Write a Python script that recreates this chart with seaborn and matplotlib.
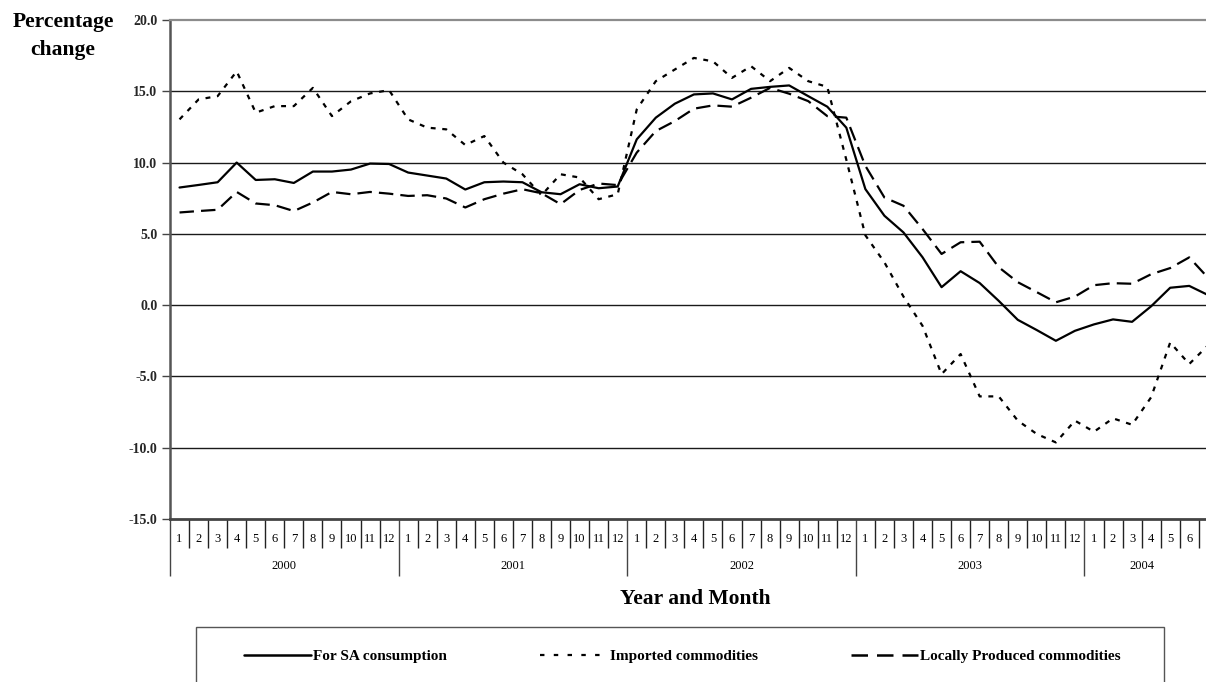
# plot.py
# Percentage change in price indices: SA consumption, imported and locally produced commodities.

import numpy as np
import pandas as pd
import matplotlib.pyplot as plt
import seaborn as sns
from matplotlib.patches import Rectangle
from matplotlib.lines import Line2D

# --- data (monthly, Jan 2000 - Jun 2004; last value runs off the right edge) ---
years = [2000, 2001, 2002, 2003, 2004]
months_per_year = [12, 12, 12, 12, 6]
y_ticks = [-15, -10, -5, 0, 5, 10, 15, 20]

sa_consumption = [8.25, 8.43, 8.62, 10.0, 8.78, 8.83, 8.57, 9.37, 9.37, 9.51, 9.93, 9.9,
                  9.3, 9.09, 8.88, 8.11, 8.62, 8.67, 8.62, 7.92, 7.78, 8.48, 8.2, 8.32,
                  11.63, 13.15, 14.13, 14.78, 14.85, 14.43, 15.17, 15.31, 15.41, 14.66, 13.92, 12.45,
                  8.14, 6.27, 5.1, 3.36, 1.26, 2.38, 1.55, 0.3, -1.03, -1.75, -2.5, -1.8,
                  -1.35, -1.0, -1.17, -0.08, 1.22, 1.35, 0.7]
imported = [13.03, 14.43, 14.66, 16.4, 13.5, 13.96, 13.96, 15.24, 13.26, 14.3, 14.85, 15.08,
            13.03, 12.45, 12.33, 11.23, 11.86, 10.0, 9.18, 7.71, 9.18, 8.95, 7.43, 7.78,
            13.73, 15.71, 16.53, 17.34, 17.1, 15.94, 16.76, 15.71, 16.64, 15.71, 15.31, 10.2,
            4.9, 3.0, 0.6, -1.45, -4.84, -3.43, -6.4, -6.4, -8.1, -9.04, -9.63, -8.1,
            -8.88, -7.94, -8.39, -6.46, -2.62, -4.13, -2.8]
locally = [6.5, 6.6, 6.69, 7.94, 7.13, 7.01, 6.6, 7.2, 7.94, 7.78, 7.94, 7.82,
           7.66, 7.71, 7.48, 6.85, 7.43, 7.82, 8.13, 7.85, 7.08, 8.08, 8.53, 8.42,
           10.7, 12.21, 12.91, 13.78, 14.01, 13.92, 14.55, 15.24, 14.83, 14.31, 13.26, 13.15,
           9.77, 7.55, 6.97, 5.34, 3.59, 4.41, 4.45, 2.66, 1.61, 0.91, 0.2, 0.6,
           1.4, 1.54, 1.5, 2.17, 2.6, 3.35, 1.9]

labels = ["For SA consumption", "Imported commodities", "Locally Produced commodities"]

df = pd.DataFrame({
    "idx": np.arange(len(sa_consumption)),
    labels[0]: sa_consumption,
    labels[1]: imported,
    labels[2]: locally,
})

# --- style ---
sns.set_theme(style="ticks")
plt.rcParams.update({
    'font.family': ['Liberation Serif', 'DejaVu Serif'],
    'axes.unicode_minus': False,
    'text.color': '#000000',
})

W, H = 1206, 682
fig = plt.figure(figsize=(W / 100, H / 100), dpi=100)
ax = fig.add_axes([170 / W, 163 / H, 1036 / W, 499 / H])

styles = {
    labels[0]: dict(linestyle='-', linewidth=1.6),
    labels[1]: dict(linestyle=(0, (2.2, 3.0)), linewidth=1.6),
    labels[2]: dict(linestyle=(0, (6.5, 3.2)), linewidth=1.6),
}
for lab in labels:
    sns.lineplot(data=df, x="idx", y=lab, ax=ax, color='black', label=lab,
                 legend=False, **styles[lab])

n_months = sum(months_per_year)
ax.set_xlim(-0.5, n_months - 0.12)
ax.set_ylim(-15, 20)

# gridlines
for v in y_ticks[1:-1]:
    ax.axhline(v, color='#1a1a1a', lw=1.0, zorder=0)

ax.spines['right'].set_visible(False)
ax.spines['top'].set_color('#8c8c8c')
ax.spines['top'].set_linewidth(1.6)
ax.spines['left'].set_color('#555555')
ax.spines['left'].set_linewidth(1.8)
ax.spines['bottom'].set_color('#444444')
ax.spines['bottom'].set_linewidth(2.0)

ax.set_yticks(y_ticks)
ax.set_yticklabels([f"{v:.1f}" for v in y_ticks], fontweight='bold', fontsize=10)
ax.tick_params(axis='y', left=True, length=6, width=1, color='#444444', pad=3, direction='out')
ax.set_xticks([])
ax.set_xlabel("")
ax.set_ylabel("")

# category axis: months and years below the plot
trans = ax.get_xaxis_transform()
month_labels = [m for n in months_per_year for m in range(1, n + 1)]
for i, m in enumerate(month_labels):
    ax.text(i, -0.040, str(m), transform=trans, ha='center', va='center', fontsize=9)

month_bounds = [i + 0.5 for i in range(n_months)]
year_bounds = list(np.cumsum(months_per_year)[:-1] - 0.5)
ax.vlines([b for b in month_bounds if b not in year_bounds], 0, -0.058, transform=trans,
          colors='#222222', lw=1.0, clip_on=False)
ax.vlines([-0.5] + year_bounds, 0, -0.114, transform=trans,
          colors='#444444', lw=1.0, clip_on=False)

start = 0
for yr, n in zip(years, months_per_year):
    ax.text(start + (n - 1) / 2, -0.094, str(yr), transform=trans,
            ha='center', va='center', fontsize=9)
    start += n

# titles
fig.text(63 / W, 1 - 36 / H, "Percentage\nchange", ha='center', va='center',
         fontsize=15.5, fontweight='bold', linespacing=1.6)
fig.text(695 / W, 1 - 599 / H, "Year and Month", ha='center', va='center',
         fontsize=15.5, fontweight='bold')

# legend with its own frame running off the bottom
fig.patches.append(Rectangle((196 / W, -0.05), (1164 - 196) / W, 0.05 + (1 - 627 / H),
                             transform=fig.transFigure, fill=False, edgecolor='#555555',
                             lw=1.0))
handles = [
    Line2D([], [], color='black', lw=1.8, linestyle='-'),
    Line2D([], [], color='black', lw=1.6, linestyle=(0, (2.0, 4.2))),
    Line2D([], [], color='black', lw=1.8, linestyle=(0, (6.6, 3.6))),
]
fig.legend(handles, labels, loc='center left', bbox_to_anchor=(236 / W, 1 - 656 / H),
           ncol=3, frameon=False, prop={'weight': 'bold', 'size': 11},
           handlelength=4.4, handletextpad=0.15, columnspacing=6.1, borderpad=0)

plt.savefig("out.png", dpi=100)
plt.close()
